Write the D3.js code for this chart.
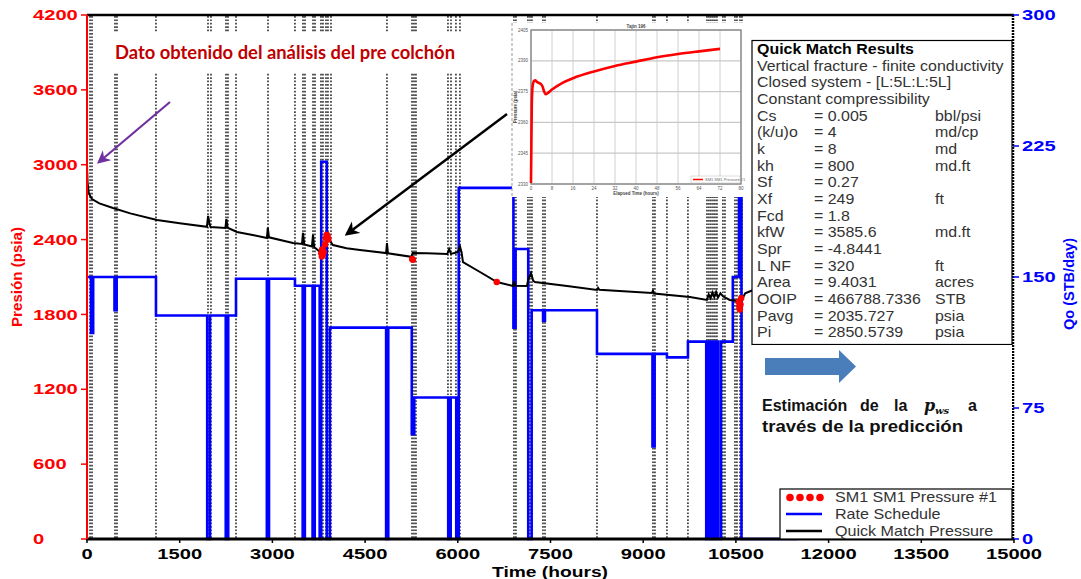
<!DOCTYPE html>
<html><head><meta charset="utf-8">
<script src="https://cdn.jsdelivr.net/npm/d3@7"></script>
<style>body{margin:0;background:#fff}svg{display:block;font-family:"Liberation Sans",Arial,sans-serif}</style>
</head><body><svg id="c" width="1081" height="579"></svg>
<script>
// ---------------- data ----------------
const xTicks = [0,1500,3000,4500,6000,7500,9000,10500,12000,13500,15000];
const pressureTicks = [0,600,1200,1800,2400,3000,3600,4200];
const rateTicks = [0,75,150,225,300];

const matchTime = [0,10,30,80,200,421,700,1133,1500,1940,1960,1985,2000,2240,2255,2275,2427,2700,2912,2925,2945,3333,3480,3495,3515,3640,3657,3675,3790,3820,3870,3900,3930,3980,4200,4417,4840,4854,4870,5250,5270,5500,5830,5860,5890,6000,6035,6060,6084,6359,6634,6893,6910,6930,7119,7140,7184,7220,7249,7800,8252,8270,8290,9140,9158,9175,9757,10030,10060,10090,10120,10150,10180,10210,10250,10290,10400,10500,10560,10600,10650,10780];
const matchPressure = [2990,2850,2770,2725,2690,2653,2610,2557,2530,2502,2590,2520,2500,2493,2565,2495,2461,2435,2413,2495,2418,2372,2365,2453,2360,2345,2437,2340,2292,2300,2380,2437,2390,2356,2330,2316,2292,2372,2290,2262,2292,2290,2284,2324,2285,2300,2345,2300,2220,2140,2060,2028,2068,2030,2028,2080,2132,2070,2060,2025,1996,2012,1998,1972,1990,1968,1940,1916,1960,1930,1975,1940,1980,1935,1970,1945,1916,1910,1880,1920,1970,1996];

const gaugeTime = [3790,3800,3805,3815,3830,3850,3865,3880,3895,3905,5262,5272,6630,10545,10555,10565,10575,10585];
const gaugePressure = [2290,2265,2320,2275,2300,2360,2410,2440,2425,2400,2245,2238,2060,1900,1860,1840,1880,1930];

const rateTime = [0,65,100,445,480,1116,1945,1990,2245,2285,2411,2910,2945,3365,3490,3525,3650,3685,3765,3790,3880,3930,4840,4875,5255,5295,5845,5885,5975,6015,6900,6935,7140,7195,7380,7410,8252,9150,9185,9384,9724,10020,10045,10055,10085,10095,10125,10135,10165,10175,10205,10215,10260,10450,10550,10590,11500];
const rateValue = [150,118,150,131,150,128,0,128,0,128,149,0,149,145,0,145,0,145,0,216,0,121,0,121,60,81,0,81,0,201,121,166,0,131,125,131,106,53,106,104,113,0,113,0,113,0,113,0,113,0,113,0,113,150,197,0,0];

const eventTimes = [49,81,453,485,1116,1958,2006,2249,2281,2411,2929,3365,3495,3527,3657,3689,3786,3818,3867,3899,3948,4854,5259,5291,5323,5841,5890,5970,6035,6909,6941,7135,7168,7200,7378,7411,8252,9158,9190,9384,9724,10032,10064,10096,10129,10161,10193,10290,10323,10485,10517,10566,10598];

const insetTime = [0,0.15,0.3,0.5,0.8,1.2,1.6,2.2,3,3.8,4.4,5,5.6,6.5,8,12,16,24,32,40,48,56,64,72];
const insetPressure = [2330.5,2350,2368,2376,2379,2380.3,2380.5,2379.8,2379.2,2378.6,2377.5,2375,2373.7,2374.4,2376,2379.3,2381.5,2384.8,2387.5,2389.6,2391.7,2393.3,2394.6,2395.8];
const insetXTicks = [0,8,16,24,32,40,48,56,64,72,80];
const insetYTicks = [2330,2345,2360,2375,2390,2405];

const headerLines = ["Vertical fracture - finite conductivity","Closed system - [L:5L:L:5L]","Constant compressibility"];
const paramNames = ["Cs","(k/u)o","k","kh","Sf","Xf","Fcd","kfW","Spr","L NF","Area","OOIP","Pavg","Pi"];
const paramValues = ["= 0.005","= 4","= 8","= 800","= 0.27","= 249","= 1.8","= 3585.6","= -4.8441","= 320","= 9.4031","= 466788.7336","= 2035.727","= 2850.5739"];
const paramUnits = ["bbl/psi","md/cp","md","md.ft","","ft","","md.ft","","ft","acres","STB","psia","psia"];
const legendLabels = ["SM1 SM1 Pressure #1","Rate Schedule","Quick Match Pressure"];

// ---------------- scales ----------------
const svg = d3.select("#c");
const x = d3.scaleLinear().domain([0,15000]).range([87,1014]);
const yP = d3.scaleLinear().domain([0,4200]).range([539,15]);
const yQ = d3.scaleLinear().domain([0,300]).range([539,15]);

// event dotted lines
svg.append("g").selectAll("line").data(eventTimes).join("line")
  .attr("x1",d=>x(d)).attr("x2",d=>x(d)).attr("y1",16).attr("y2",539)
  .attr("stroke","#000").attr("stroke-width",1.3).attr("stroke-dasharray","1.7,1.7");

// white band behind annotation
svg.append("rect").attr("x",100).attr("y",33).attr("width",372).attr("height",39).attr("fill","#fff");

// rate schedule
const rateData = rateTime.map((t,i)=>[t,rateValue[i]]);
svg.append("path").datum(rateData)
  .attr("d", d3.line().x(d=>x(d[0])).y(d=>yQ(d[1])).curve(d3.curveStepAfter))
  .attr("fill","none").attr("stroke","#0000ff").attr("stroke-width",2.6);

// quick match pressure
const matchData = matchTime.map((t,i)=>[t,matchPressure[i]]);
svg.append("path").datum(matchData)
  .attr("d", d3.line().x(d=>x(d[0])).y(d=>yP(d[1])))
  .attr("fill","none").attr("stroke","#000").attr("stroke-width",2);

// gauge pressure
svg.append("g").selectAll("circle").data(gaugeTime.map((t,i)=>[t,gaugePressure[i]])).join("circle")
  .attr("cx",d=>x(d[0])).attr("cy",d=>yP(d[1])).attr("r",3.2).attr("fill","#ff0000");

// axes frame
svg.append("line").attr("x1",87).attr("x2",1014).attr("y1",15).attr("y2",15).attr("stroke","#000").attr("stroke-width",2.5);
svg.append("line").attr("x1",86).attr("x2",1014).attr("y1",539).attr("y2",539).attr("stroke","#000").attr("stroke-width",3);
svg.append("line").attr("x1",87).attr("x2",87).attr("y1",15).attr("y2",539).attr("stroke","#ff0000").attr("stroke-width",2);
svg.append("line").attr("x1",1013).attr("x2",1013).attr("y1",15).attr("y2",539).attr("stroke","#000").attr("stroke-width",2.5).attr("stroke-dasharray","2,1");

// left axis ticks/labels
const gl = svg.append("g");
gl.selectAll("line").data(pressureTicks).join("line")
  .attr("x1",81).attr("x2",87).attr("y1",d=>yP(d)).attr("y2",d=>yP(d)).attr("stroke","#ff0000").attr("stroke-width",1.5);
gl.selectAll("text").data(pressureTicks).join("text")
  .attr("x",33).attr("y",d=>yP(d)+5.2).text(d=>d)
  .attr("textLength",d=>String(d).length*11.2).attr("lengthAdjust","spacingAndGlyphs")
  .attr("font-size",14.5).attr("font-weight","bold").attr("fill","#ff0000");
// right axis ticks/labels
const gr = svg.append("g");
gr.selectAll("line").data(rateTicks).join("line")
  .attr("x1",1013).attr("x2",1019).attr("y1",d=>yQ(d)).attr("y2",d=>yQ(d)).attr("stroke","#0000ff").attr("stroke-width",1.5);
gr.selectAll("text").data(rateTicks).join("text")
  .attr("x",1022).attr("y",d=>yQ(d)+5.2).text(d=>d)
  .attr("textLength",d=>String(d).length*11.2).attr("lengthAdjust","spacingAndGlyphs")
  .attr("font-size",14.5).attr("font-weight","bold").attr("fill","#0000ff");
// bottom axis
const gb = svg.append("g");
gb.selectAll("line").data(xTicks).join("line")
  .attr("x1",d=>x(d)).attr("x2",d=>x(d)).attr("y1",539).attr("y2",543).attr("stroke","#000").attr("stroke-width",1.5);
gb.selectAll("text").data(xTicks).join("text")
  .attr("x",d=>x(d)).attr("y",559).attr("text-anchor","middle").text(d=>d)
  .attr("textLength",d=>String(d).length*11.2).attr("lengthAdjust","spacingAndGlyphs")
  .attr("font-size",14.5).attr("font-weight","bold").attr("fill","#000");

// axis titles
svg.append("text").attr("transform","translate(22,277) rotate(-90)").attr("text-anchor","middle")
  .attr("font-size",14.5).attr("font-weight","bold").attr("fill","#ff0000").attr("textLength",100).attr("lengthAdjust","spacingAndGlyphs").text("Presión (psia)");
svg.append("text").attr("transform","translate(1074,284) rotate(-90)").attr("text-anchor","middle")
  .attr("font-size",14.5).attr("font-weight","bold").attr("fill","#0000ff").attr("textLength",92).attr("lengthAdjust","spacingAndGlyphs").text("Qo (STB/day)");
svg.append("text").attr("x",550).attr("y",577).attr("text-anchor","middle")
  .attr("font-size",14.5).attr("font-weight","bold").attr("fill","#000").attr("textLength",116).attr("lengthAdjust","spacingAndGlyphs").text("Time (hours)");

// annotation
svg.append("text").attr("x",115).attr("y",59).attr("font-family","Lato, 'Open Sans', sans-serif")
  .attr("font-size",19).attr("font-weight","bold").attr("fill","#c00000")
  .attr("textLength",340).attr("lengthAdjust","spacingAndGlyphs").text("Dato obtenido del análisis del pre colchón");

// arrows
const defs = svg.append("defs");
function marker(id,color){
  defs.append("marker").attr("id",id).attr("viewBox","0 0 10 10").attr("refX",8).attr("refY",5)
    .attr("markerWidth",6).attr("markerHeight",6).attr("markerUnits","strokeWidth").attr("orient","auto")
    .append("path").attr("d","M0,0 L10,5 L0,10 L3,5 Z").attr("fill",color);
}
marker("mp","#7030a0"); marker("mk","#000");
svg.append("line").attr("x1",170).attr("y1",102).attr("x2",99).attr("y2",162)
  .attr("stroke","#7030a0").attr("stroke-width",2.2).attr("marker-end","url(#mp)");
svg.append("line").attr("x1",507).attr("y1",114).attr("x2",347).attr("y2",234)
  .attr("stroke","#000").attr("stroke-width",2.4).attr("marker-end","url(#mk)");

// ---------------- inset ----------------
const ins = svg.append("g");
ins.append("rect").attr("x",512).attr("y",23).attr("width",240).attr("height",174).attr("fill","#fff");
ins.append("line").attr("x1",512).attr("x2",512).attr("y1",23).attr("y2",197).attr("stroke","#999").attr("stroke-dasharray","3,2");
const ix = d3.scaleLinear().domain([0,80]).range([531,741]);
const iy = d3.scaleLinear().domain([2330,2405]).range([184,30]);
ins.selectAll("line.gx").data(insetXTicks).join("line").attr("class","gx")
  .attr("x1",d=>ix(d)).attr("x2",d=>ix(d)).attr("y1",30).attr("y2",184).attr("stroke","#d0d0d0");
ins.selectAll("line.gy").data(insetYTicks).join("line").attr("class","gy")
  .attr("x1",531).attr("x2",741).attr("y1",d=>iy(d)).attr("y2",d=>iy(d)).attr("stroke","#c8c8c8").attr("stroke-width",1.2);
ins.append("rect").attr("x",531).attr("y",30).attr("width",210).attr("height",154).attr("fill","none").attr("stroke","#888").attr("stroke-width",1.4);
ins.selectAll("text.tx").data(insetXTicks).join("text").attr("class","tx")
  .attr("x",d=>ix(d)).attr("y",190).attr("text-anchor","middle").attr("font-size",4.5).attr("fill","#555").text(d=>d);
ins.selectAll("text.ty").data(insetYTicks).join("text").attr("class","ty")
  .attr("x",528).attr("y",d=>iy(d)+1.5).attr("text-anchor","end").attr("font-size",4.5).attr("fill","#555").text(d=>d);
ins.append("text").attr("x",636).attr("y",28).attr("text-anchor","middle").attr("font-size",4.5).attr("font-weight","bold").attr("fill","#444").text("Tajin 196");
ins.append("text").attr("x",636).attr("y",195).attr("text-anchor","middle").attr("font-size",4.5).attr("font-weight","bold").attr("fill","#444").text("Elapsed Time (hours)");
ins.append("text").attr("transform","translate(517,107) rotate(-90)").attr("text-anchor","middle").attr("font-size",4.5).attr("font-weight","bold").attr("fill","#444").text("Pressure (psia)");
ins.append("path").datum(insetTime.map((t,i)=>[t,insetPressure[i]]))
  .attr("d",d3.line().x(d=>ix(d[0])).y(d=>iy(d[1])).curve(d3.curveMonotoneX))
  .attr("fill","none").attr("stroke","#ff0000").attr("stroke-width",2.6);
ins.append("rect").attr("x",691).attr("y",176).attr("width",49).attr("height",7).attr("fill","#fff").attr("stroke","#bbb").attr("stroke-width",0.5);
ins.append("line").attr("x1",693).attr("x2",703).attr("y1",179.5).attr("y2",179.5).attr("stroke","#ff0000").attr("stroke-width",1.5);
ins.append("text").attr("x",705).attr("y",181).attr("font-size",4).attr("fill","#666").text(legendLabels[0]);

// ---------------- results table ----------------
const tb = svg.append("g");
tb.append("rect").attr("x",752).attr("y",40.5).attr("width",260).attr("height",304).attr("fill","#fff").attr("stroke","#000").attr("stroke-width",1.2);
const tt = tb.append("g").attr("transform","translate(757,0) scale(1.14,1) translate(-757,0)");
const sx = v => 757 + (v-757)/1.14;
const rowY = i => 54 + 16.67*i;
tt.append("text").attr("x",757).attr("y",rowY(0)).attr("font-size",14).attr("font-weight","bold").attr("fill","#000").text("Quick Match Results");
tt.selectAll("text.h").data(headerLines).join("text").attr("class","h")
  .attr("x",757).attr("y",(d,i)=>rowY(i+1)).attr("font-size",14).attr("fill","#333").text(d=>d);
tt.selectAll("text.n").data(paramNames).join("text").attr("class","n")
  .attr("x",757).attr("y",(d,i)=>rowY(i+4)).attr("font-size",14).attr("fill","#333").text(d=>d);
tt.selectAll("text.v").data(paramValues).join("text").attr("class","v")
  .attr("x",sx(814)).attr("y",(d,i)=>rowY(i+4)).attr("font-size",14).attr("fill","#333").text(d=>d);
tt.selectAll("text.u").data(paramUnits).join("text").attr("class","u")
  .attr("x",sx(935)).attr("y",(d,i)=>rowY(i+4)).attr("font-size",14).attr("fill","#333").text(d=>d);
// white area below table (no data beyond)
svg.append("rect").attr("x",752).attr("y",345).attr("width",260).attr("height",143).attr("fill","#fff");

// block arrow
svg.append("path").attr("d","M765,358 L839,358 L839,350 L856,366.5 L839,383 L839,375 L765,375 Z").attr("fill","#4a7ebb");

// prediction text
const pt = svg.append("g").attr("font-size",16).attr("font-weight","bold").attr("fill","#111");
pt.append("text").attr("x",762).attr("y",411).text("Estimación");
pt.append("text").attr("x",860).attr("y",411).text("de");
pt.append("text").attr("x",894).attr("y",411).text("la");
pt.append("text").attr("x",924).attr("y",411).attr("font-family","'DejaVu Serif', serif").attr("font-style","italic").text("p");
pt.append("text").attr("x",935).attr("y",414).attr("font-size",10).attr("font-family","'DejaVu Serif', serif").attr("font-style","italic").text("ws");
pt.append("text").attr("x",968).attr("y",411).text("a");
pt.append("text").attr("x",762).attr("y",432).attr("textLength",201).attr("lengthAdjust","spacingAndGlyphs").text("través de la predicción");

// legend
const lg = svg.append("g");
lg.append("rect").attr("x",780).attr("y",489).attr("width",232).attr("height",50).attr("fill","#fff").attr("stroke","#000").attr("stroke-width",1.2);
[0,1,2,3].forEach(k=>lg.append("circle").attr("cx",790+k*10).attr("cy",497.5).attr("r",3.8).attr("fill","#ff0000"));
lg.append("line").attr("x1",786).attr("x2",822).attr("y1",514).attr("y2",514).attr("stroke","#0000ff").attr("stroke-width",2.6);
lg.append("line").attr("x1",786).attr("x2",822).attr("y1",531).attr("y2",531).attr("stroke","#000").attr("stroke-width",2.6);
lg.append("g").attr("transform","translate(835,0) scale(1.15,1) translate(-835,0)")
  .selectAll("text").data(legendLabels).join("text")
  .attr("x",835).attr("y",(d,i)=>502.5+i*16.7).attr("font-size",14).attr("fill","#333").text(d=>d);
</script></body></html>
